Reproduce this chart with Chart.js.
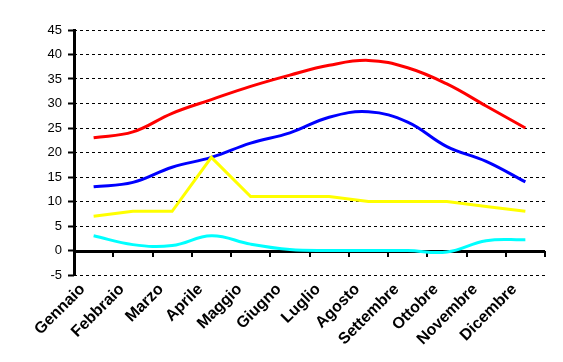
<!DOCTYPE html>
<html>
<head>
<meta charset="utf-8">
<script src="https://cdn.jsdelivr.net/npm/chart.js@4/dist/chart.umd.min.js"></script>
<style>
  html, body { margin: 0; padding: 0; background: #fff; }
  #wrap { width: 563px; height: 362px; }
</style>
</head>
<body>
<div id="wrap"><canvas id="grafico" width="563" height="362"></canvas></div>
<script>
  // valori
  const mesi = ["Gennaio", "Febbraio", "Marzo", "Aprile", "Maggio", "Giugno",
                "Luglio", "Agosto", "Settembre", "Ottobre", "Novembre", "Dicembre"];
  const serieRossa   = [23.0, 24.2, 28.0, 30.8, 33.5, 35.8, 37.8, 38.8, 37.3, 34.0, 29.5, 25.0];
  const serieBlu     = [13.0, 13.9, 17.0, 19.0, 21.9, 24.0, 27.2, 28.3, 26.2, 21.2, 18.2, 14.0];
  const serieGialla  = [7, 8, 8, 19, 11, 11, 11, 10, 10, 10, 9, 8];
  const serieAzzurra = [3.0, 1.2, 1.0, 3.0, 1.3, 0.2, 0, 0, 0, -0.3, 2.0, 2.2];
  const tickY = { min: -5, max: 45, passo: 5 };

  // assi: verticale pieno a sinistra, orizzontale sullo zero con le tacche tra le categorie
  const assi = {
    id: 'assi',
    beforeDatasetsDraw(chart) {
      const ctx = chart.ctx;
      const x = chart.scales.x, y = chart.scales.y;
      const y0 = Math.round(y.getPixelForValue(0));
      const a = chart.chartArea;
      const sx = Math.round(a.left);
      ctx.save();
      ctx.fillStyle = '#000';
      ctx.fillRect(sx - 1, Math.round(a.top) - 1, 3, Math.round(a.bottom - a.top) + 2);
      ctx.fillRect(sx - 1, y0 - 1, Math.round(a.right) - sx + 1, 3);
      const passo = x.getPixelForValue(1) - x.getPixelForValue(0);
      for (let i = 1; i <= mesi.length; i++) {
        const px = Math.round(x.getPixelForValue(i) - passo / 2);
        ctx.fillRect(px - 1, y0, 2, 6);
      }
      ctx.restore();
    }
  };

  function linea(dati, colore, curva) {
    return {
      data: dati,
      borderColor: colore,
      borderWidth: 3,
      pointRadius: 0,
      tension: curva ? 0.4 : 0,
      fill: false
    };
  }

  new Chart(document.getElementById('grafico'), {
    type: 'line',
    data: {
      labels: mesi,
      datasets: [
        linea(serieAzzurra, '#00FFFF', true),
        linea(serieGialla, '#FFFF00', false),
        linea(serieBlu, '#0000FF', true),
        linea(serieRossa, '#FF0000', true)
      ]
    },
    plugins: [assi],
    options: {
      responsive: false,
      animation: false,
      events: [],
      layout: { padding: { left: 0, right: 18, top: 30, bottom: 0 } },
      plugins: { legend: { display: false }, tooltip: { enabled: false } },
      scales: {
        x: {
          offset: true,
          grid: { display: false },
          border: { display: false },
          ticks: {
            autoSkip: false,
            maxRotation: 45,
            minRotation: 45,
            color: '#000',
            padding: -3,
            labelOffset: -11,
            font: { family: 'Liberation Sans', size: 16, weight: 'bold' }
          },
          afterFit(s) { s.height = 87; }
        },
        y: {
          min: tickY.min,
          max: tickY.max,
          ticks: {
            stepSize: tickY.passo,
            color: '#000',
            padding: 6,
            font: { family: 'Liberation Sans', size: 13 }
          },
          grid: {
            color: c => c.tick && c.tick.value === 0 ? 'rgba(0,0,0,0)' : '#000',
            lineWidth: 1,
            drawTicks: true,
            tickLength: 6,
            tickColor: '#000',
            tickWidth: 2
          },
          border: { display: false, dash: [3, 3] },
          afterFit(s) { s.width = 74; }
        }
      }
    }
  });
</script>
</body>
</html>
